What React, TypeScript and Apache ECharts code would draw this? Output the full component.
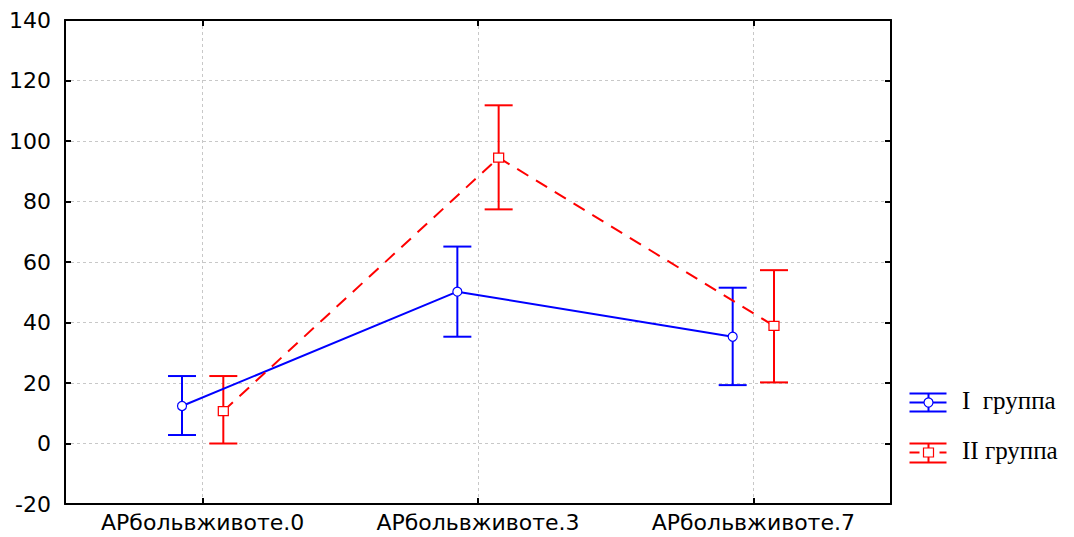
import React, { useEffect, useRef } from "react";
import * as echarts from "echarts";

const categories = ["АРбольвживоте.0", "АРбольвживоте.3", "АРбольвживоте.7"];
const group1Mean = [12.4, 50.2, 35.3];
const group1Low = [2.8, 35.3, 19.3];
const group1High = [22.3, 65.1, 51.5];
const group2Mean = [10.7, 94.5, 38.9];
const group2Low = [0, 77.4, 20.2];
const group2High = [22.3, 111.8, 57.3];
const seriesNames = ["I  группа", "II группа"];
const yMin = -20;
const yMax = 140;
const yStep = 20;

const BLUE = "#0000ff";
const RED = "#ff0000";
const DODGE = 0.075;
const catIdx = categories.map((_, i) => i);

function errorSeries(name: string, lows: number[], highs: number[], shift: number, color: string) {
  return {
    type: "custom",
    name,
    z: 2,
    data: lows.map((lo, i) => [i + shift, lo, highs[i]]),
    renderItem: (params: any, api: any) => {
      const x = api.value(0);
      const lo = api.value(1);
      const hi = api.value(2);
      const pHi = api.coord([x, hi]);
      const pLo = api.coord([x, lo]);
      const hw = 14;
      const st = { stroke: color, lineWidth: 2 };
      return {
        type: "group",
        children: [
          { type: "line", shape: { x1: pHi[0], y1: pHi[1], x2: pLo[0], y2: pLo[1] }, style: st },
          { type: "line", shape: { x1: pHi[0] - hw, y1: pHi[1], x2: pHi[0] + hw, y2: pHi[1] }, style: st },
          { type: "line", shape: { x1: pLo[0] - hw, y1: pLo[1], x2: pLo[0] + hw, y2: pLo[1] }, style: st },
        ],
      };
    },
  };
}

export default function App() {
  const ref = useRef<HTMLDivElement>(null);
  useEffect(() => {
    if (!ref.current) return;
    const chart = echarts.init(ref.current, undefined, { renderer: "svg" });
    const axisLine = { show: true, onZero: false, lineStyle: { color: "#000", width: 2 } };
    const tick = { show: true, inside: true, length: 6, lineStyle: { color: "#000", width: 2 } };
    const splitLine = { show: true, lineStyle: { color: "#c8c8c8", type: [3, 3], width: 1 } };
    const labelFont = { fontFamily: "DejaVu Sans", fontSize: 22, color: "#000" };
    const legendFont = "25px 'Liberation Serif'";
    chart.setOption({
      animation: false,
      backgroundColor: "#fff",
      grid: { left: 65, right: 183, top: 20, bottom: 33, containLabel: false },
      xAxis: [
        {
          type: "value",
          min: -0.5,
          max: 2.5,
          position: "bottom",
          axisLine,
          axisTick: { ...tick, customValues: catIdx },
          axisLabel: {
            ...labelFont,
            customValues: catIdx,
            margin: 7,
            formatter: (v: number) => categories[Math.round(v)] ?? "",
          },
          splitLine,
        },
        {
          type: "value",
          min: -0.5,
          max: 2.5,
          position: "top",
          axisLine,
          axisTick: { ...tick, customValues: catIdx },
          axisLabel: { show: false },
          splitLine: { show: false },
        },
      ],
      yAxis: [
        {
          type: "value",
          min: yMin,
          max: yMax,
          interval: yStep,
          position: "left",
          axisLine,
          axisTick: tick,
          axisLabel: { ...labelFont, margin: 14 },
          splitLine,
        },
        {
          type: "value",
          min: yMin,
          max: yMax,
          interval: yStep,
          position: "right",
          axisLine,
          axisTick: tick,
          axisLabel: { show: false },
          splitLine: { show: false },
        },
      ],
      series: [
        errorSeries(seriesNames[0] + " err", group1Low, group1High, -DODGE, BLUE),
        errorSeries(seriesNames[1] + " err", group2Low, group2High, DODGE, RED),
        {
          type: "line",
          name: seriesNames[0],
          z: 3,
          data: group1Mean.map((v, i) => [i - DODGE, v]),
          lineStyle: { color: BLUE, width: 2 },
          symbol: "circle",
          symbolSize: 9,
          itemStyle: { color: "#fff", borderColor: BLUE, borderWidth: 1.2 },
        },
        {
          type: "line",
          name: seriesNames[1],
          z: 3,
          data: group2Mean.map((v, i) => [i + DODGE, v]),
          lineStyle: { color: RED, width: 2, type: [13, 9] },
          symbol: "rect",
          symbolSize: [10, 9],
          itemStyle: { color: "#fff", borderColor: RED, borderWidth: 1.2 },
        },
      ],
      graphic: [
        {
          type: "group",
          left: 907,
          top: 391,
          children: [
            { type: "line", shape: { x1: 0, y1: 1, x2: 37, y2: 1 }, style: { stroke: BLUE, lineWidth: 2 } },
            { type: "line", shape: { x1: 0, y1: 10, x2: 37, y2: 10 }, style: { stroke: BLUE, lineWidth: 2 } },
            { type: "line", shape: { x1: 0, y1: 19, x2: 37, y2: 19 }, style: { stroke: BLUE, lineWidth: 2 } },
            { type: "line", shape: { x1: 19, y1: 1, x2: 19, y2: 19 }, style: { stroke: BLUE, lineWidth: 2 } },
            { type: "circle", shape: { cx: 19, cy: 10, r: 4.5 }, style: { fill: "#fff", stroke: BLUE, lineWidth: 1.2 } },
          ],
        },
        {
          type: "group",
          left: 907,
          top: 441,
          children: [
            { type: "line", shape: { x1: 0, y1: 1, x2: 37, y2: 1 }, style: { stroke: RED, lineWidth: 2 } },
            { type: "line", shape: { x1: 0, y1: 10, x2: 10, y2: 10 }, style: { stroke: RED, lineWidth: 2 } },
            { type: "line", shape: { x1: 30, y1: 10, x2: 37, y2: 10 }, style: { stroke: RED, lineWidth: 2 } },
            { type: "line", shape: { x1: 0, y1: 20, x2: 37, y2: 20 }, style: { stroke: RED, lineWidth: 2 } },
            { type: "line", shape: { x1: 19, y1: 1, x2: 19, y2: 20 }, style: { stroke: RED, lineWidth: 2 } },
            { type: "rect", shape: { x: 14, y: 5.5, width: 10, height: 9 }, style: { fill: "#fff", stroke: RED, lineWidth: 1.2 } },
          ],
        },
        {
          type: "text",
          left: 962,
          top: 388,
          style: { text: seriesNames[0], font: legendFont, fill: "#000" },
        },
        {
          type: "text",
          left: 962,
          top: 438,
          style: { text: seriesNames[1], font: legendFont, fill: "#000" },
        },
      ],
    });
    return () => chart.dispose();
  }, []);
  return (
    <div
      ref={ref}
      style={{ position: "fixed", left: 0, top: 0, width: 1074, height: 537, background: "#fff" }}
    />
  );
}
